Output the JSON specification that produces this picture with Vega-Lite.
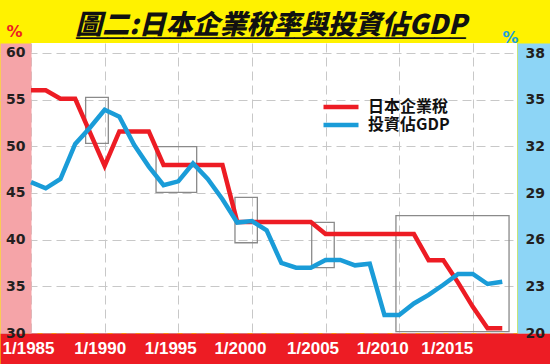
{
  "$schema": "https://vega.github.io/schema/vega-lite/v6.json",
  "width": 486,
  "height": 290,
  "autosize": {"type": "none"},
  "padding": {"left": 31, "top": 43, "right": 33, "bottom": 31},
  "background": "#FFF200",
  "config": {
    "view": {"fill": "white", "stroke": null}
  },
  "title": {
    "text": "圖二:日本企業稅率與投資佔GDP",
    "subtitle": "_________________________",
    "font": "Noto Sans CJK TC",
    "fontSize": 27,
    "fontWeight": 900,
    "fontStyle": "italic",
    "color": "#111111",
    "subtitleFont": "Liberation Sans",
    "subtitleFontSize": 28,
    "subtitleColor": "#111111",
    "subtitlePadding": -27.5,
    "anchor": "middle",
    "baseline": "alphabetic",
    "dx": -3,
    "dy": 11,
    "offset": -27.5
  },
  "datasets": {
    "series": [
      {"year": 1985, "tax": 56.0, "inv": 29.7},
      {"year": 1986, "tax": 56.0, "inv": 29.3},
      {"year": 1987, "tax": 55.1, "inv": 29.9},
      {"year": 1988, "tax": 55.1, "inv": 32.15},
      {"year": 1989, "tax": 51.5, "inv": 33.2},
      {"year": 1990, "tax": 47.9, "inv": 34.35},
      {"year": 1991, "tax": 51.6, "inv": 33.9},
      {"year": 1992, "tax": 51.6, "inv": 32.1},
      {"year": 1993, "tax": 51.6, "inv": 30.7},
      {"year": 1994, "tax": 48.0, "inv": 29.5},
      {"year": 1995, "tax": 48.0, "inv": 29.75},
      {"year": 1996, "tax": 48.0, "inv": 30.9},
      {"year": 1997, "tax": 48.0, "inv": 29.9},
      {"year": 1998, "tax": 48.0, "inv": 28.6},
      {"year": 1999, "tax": 41.9, "inv": 27.1},
      {"year": 2000, "tax": 41.9, "inv": 27.2},
      {"year": 2001, "tax": 41.9, "inv": 26.6},
      {"year": 2002, "tax": 41.9, "inv": 24.5},
      {"year": 2003, "tax": 41.9, "inv": 24.2},
      {"year": 2004, "tax": 41.9, "inv": 24.2},
      {"year": 2005, "tax": 40.6, "inv": 24.7},
      {"year": 2006, "tax": 40.6, "inv": 24.7},
      {"year": 2007, "tax": 40.6, "inv": 24.35},
      {"year": 2008, "tax": 40.6, "inv": 24.45},
      {"year": 2009, "tax": 40.6, "inv": 21.15},
      {"year": 2010, "tax": 40.6, "inv": 21.15},
      {"year": 2011, "tax": 40.6, "inv": 21.9},
      {"year": 2012, "tax": 37.8, "inv": 22.45},
      {"year": 2013, "tax": 37.8, "inv": 23.1},
      {"year": 2014, "tax": 35.4, "inv": 23.8},
      {"year": 2015, "tax": 32.8, "inv": 23.8},
      {"year": 2016, "tax": 30.5, "inv": 23.15},
      {"year": 2017, "tax": 30.5, "inv": 23.3}
    ],
    "boxes": [
      {"start": 1988.71, "end": 1990.25, "top": 55.25, "bottom": 50.32},
      {"start": 1993.49, "end": 1996.25, "top": 49.96, "bottom": 45.07},
      {"start": 1998.85, "end": 2000.37, "top": 44.54, "bottom": 39.67},
      {"start": 2004.06, "end": 2005.59, "top": 41.86, "bottom": 37.0},
      {"start": 2009.78, "end": 2017.46, "top": 42.57, "bottom": 30.14}
    ]
  },
  "layer": [
    {
      "layer": [
        {
          "data": {"name": "boxes"},
          "transform": [{"filter": "datum.end - datum.start < 4"}],
          "mark": {"type": "rect", "fill": null, "stroke": "#8a8a8a", "strokeWidth": 1.3},
          "encoding": {
            "x": {
              "field": "start",
              "type": "quantitative",
              "scale": {"domain": [1982.895, 2020.241], "range": [-31, 519], "nice": false, "zero": false},
              "axis": {
                "orient": "bottom",
                "values": [1985, 1990, 1995, 2000, 2005, 2010, 2015],
                "title": null,
                "labels": false,
                "ticks": false,
                "offset": 15.5,
                "domain": true,
                "domainColor": "#ED1C24",
                "domainWidth": 31,
                "domainCap": "butt",
                "grid": true,
                "gridColor": "#C8C8C8",
                "gridDash": [9, 5],
                "gridWidth": 1,
                "zindex": 0
              }
            },
            "x2": {"field": "end"},
            "y": {
              "field": "top",
              "type": "quantitative",
              "scale": {"domain": [30, 61.0714], "nice": false, "zero": false},
              "axis": {
                "orient": "left",
                "values": [30, 35, 40, 45, 50, 55, 60],
                "title": null,
                "labels": false,
                "ticks": false,
                "offset": 15.5,
                "domain": true,
                "domainColor": "#F5A4A8",
                "domainWidth": 31,
                "domainCap": "butt",
                "grid": true,
                "gridColor": "#C8C8C8",
                "gridDash": [9, 5],
                "gridWidth": 1,
                "zindex": 0
              }
            },
            "y2": {"field": "bottom"}
          }
        },
        {
          "data": {"name": "boxes"},
          "transform": [{"filter": "datum.end - datum.start >= 4"}],
          "mark": {"type": "rect", "fill": null, "stroke": "#8a8a8a", "strokeWidth": 1.3},
          "encoding": {
            "x": {"field": "start", "type": "quantitative", "axis": null},
            "x2": {"field": "end"},
            "y": {
              "field": "top",
              "type": "quantitative",
              "axis": {
                "orient": "right",
                "values": [30, 35, 40, 45, 50, 55, 60],
                "title": null,
                "labels": false,
                "ticks": false,
                "grid": false,
                "offset": 16.5,
                "domain": true,
                "domainColor": "#8DD5F6",
                "domainWidth": 33,
                "domainCap": "butt",
                "zindex": 0
              }
            },
            "y2": {"field": "bottom"}
          }
        },
        {
          "data": {"name": "series"},
          "mark": {"type": "line", "strokeWidth": 4.5},
          "encoding": {
            "x": {
              "field": "year",
              "type": "quantitative",
              "axis": {
                "orient": "bottom",
                "values": [1985, 1990, 1995, 2000, 2005, 2010, 2015],
                "labelExpr": "'1/' + datum.value",
                "title": null,
                "offset": 0,
                "domain": false,
                "ticks": false,
                "grid": false,
                "labelColor": "#FFFFFF",
                "labelFont": "Liberation Sans",
                "labelFontSize": 17,
                "labelFontWeight": "bold",
                "labelBaseline": "middle",
                "labelPadding": 15,
                "labelFlush": false,
                "labelOverlap": false,
                "labelBound": false,
                "labelOffset": {
                  "condition": [
                    {"test": "datum.value == 1985", "value": -3},
                    {"test": "datum.value == 1990", "value": -5},
                    {"test": "datum.value == 1995", "value": -8},
                    {"test": "datum.value == 2000", "value": -12},
                    {"test": "datum.value == 2005", "value": -13},
                    {"test": "datum.value == 2010", "value": -17}
                  ],
                  "value": -26
                },
                "zindex": 1
              }
            },
            "y": {
              "field": "tax",
              "type": "quantitative",
              "axis": {
                "orient": "left",
                "values": [30, 35, 40, 45, 50, 55, 60],
                "offset": 0,
                "domain": false,
                "ticks": false,
                "grid": false,
                "labelFont": "DejaVu Sans",
                "labelFontSize": 14,
                "labelFontWeight": "bold",
                "labelColor": "#231F20",
                "labelPadding": 6,
                "labelBaseline": "middle",
                "labelFlush": false,
                "labelOverlap": false,
                "title": "%",
                "titleColor": "#ED1C24",
                "titleFont": "DejaVu Sans",
                "titleFontSize": 16,
                "titleFontWeight": "bold",
                "titleAngle": 0,
                "titleAlign": "center",
                "titleBaseline": "middle",
                "titleX": -17,
                "titleY": -12,
                "zindex": 1
              }
            },
            "color": {
              "datum": "日本企業稅",
              "type": "nominal",
              "scale": {"domain": ["日本企業稅", "投資佔GDP"], "range": ["#ED1C24", "#1A9CD8"]},
              "legend": {
                "orient": "none",
                "legendX": 302,
                "legendY": 56,
                "title": null,
                "padding": 0,
                "direction": "vertical",
                "symbolType": "M-3.5,0H3.5",
                "symbolSize": 100,
                "symbolStrokeWidth": 4.5,
                "labelOffset": 19,
                "labelFont": "Noto Sans CJK TC",
                "labelFontSize": 16,
                "labelFontWeight": "bold",
                "labelColor": "#111111",
                "rowPadding": 0
              }
            }
          }
        }
      ],
      "resolve": {"axis": {"x": "independent", "y": "independent"}}
    },
    {
      "data": {"name": "series"},
      "mark": {"type": "line", "strokeWidth": 4.5},
      "encoding": {
        "x": {"field": "year", "type": "quantitative", "axis": null},
        "y": {
          "field": "inv",
          "type": "quantitative",
          "scale": {"domain": [20, 38.643], "nice": false, "zero": false},
          "axis": {
            "orient": "right",
            "values": [20, 23, 26, 29, 32, 35, 38],
            "offset": 0,
            "domain": false,
            "ticks": false,
            "grid": false,
            "labelFont": "DejaVu Sans",
            "labelFontSize": 14,
            "labelFontWeight": "bold",
            "labelColor": "#231F20",
            "labelPadding": 8,
            "labelBaseline": "middle",
            "labelFlush": false,
            "labelOverlap": false,
            "title": "%",
            "titleColor": "#1BA1DD",
            "titleFont": "DejaVu Sans",
            "titleFontSize": 16,
            "titleFontWeight": "bold",
            "titleAngle": 0,
            "titleAlign": "center",
            "titleBaseline": "middle",
            "titleX": -7,
            "titleY": -5.5,
            "zindex": 1
          }
        },
        "color": {"datum": "投資佔GDP", "type": "nominal"}
      }
    }
  ],
  "resolve": {"scale": {"y": "independent"}}
}
